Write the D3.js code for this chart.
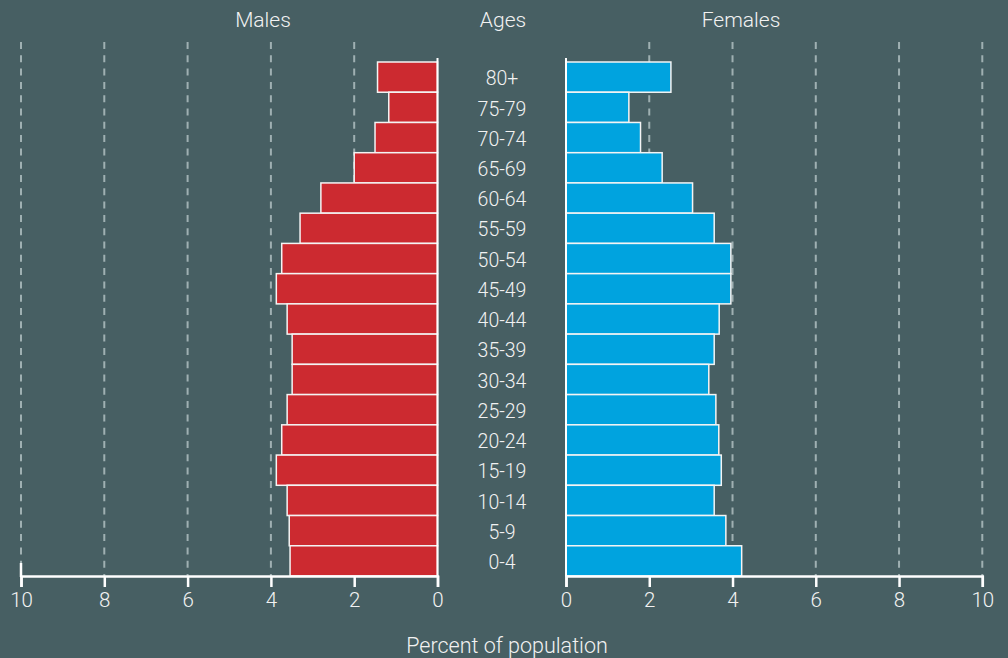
<!DOCTYPE html>
<html>
<head>
<meta charset="utf-8">
<script src="https://cdn.jsdelivr.net/npm/d3@7"></script>
<style>
  html, body { margin: 0; padding: 0; background: #475f63; }
  svg { display: block; font-family: Roboto, "Liberation Sans", sans-serif; font-weight: 300; }
</style>
</head>
<body>
<div id="chart"></div>
<script>
const ages = ['80+', '75-79', '70-74', '65-69', '60-64', '55-59', '50-54', '45-49', '40-44',
  '35-39', '30-34', '25-29', '20-24', '15-19', '10-14', '5-9', '0-4'];
const males = [1.44, 1.17, 1.50, 2.00, 2.80, 3.30, 3.74, 3.87, 3.61, 3.49, 3.49, 3.61, 3.74, 3.87, 3.61, 3.56, 3.54];
const females = [2.52, 1.51, 1.79, 2.31, 3.04, 3.56, 3.96, 3.96, 3.68, 3.56, 3.43, 3.60, 3.67, 3.73, 3.56, 3.84, 4.22];
const tickValues = [0, 2, 4, 6, 8, 10];
const gridValues = [2, 4, 6, 8, 10];

const width = 1008, height = 658;
const textColor = '#f2f2f2';

const svg = d3.select('#chart').append('svg')
  .attr('width', width)
  .attr('height', height);

svg.append('rect').attr('width', width).attr('height', height).attr('fill', '#475f63');

const y = d3.scaleBand().domain(ages).range([62, 576]).padding(0);
const xLeft = d3.scaleLinear().domain([0, 10]).range([437.5, 21]);
const xRight = d3.scaleLinear().domain([0, 10]).range([566, 982.3]);
const axisY = 576;

// dashed gridlines
[xLeft, xRight].forEach(x => {
  svg.append('g').selectAll('line')
    .data(gridValues)
    .join('line')
    .attr('x1', d => x(d)).attr('x2', d => x(d))
    .attr('y1', 42).attr('y2', axisY)
    .attr('stroke', '#9fb0b2')
    .attr('stroke-width', 2)
    .attr('stroke-dasharray', '7,6.3');
});

// bars
svg.append('g').selectAll('rect')
  .data(males)
  .join('rect')
  .attr('x', d => xLeft(d))
  .attr('y', (d, i) => y(ages[i]))
  .attr('width', d => xLeft(0) - xLeft(d))
  .attr('height', y.bandwidth())
  .attr('fill', '#cc2a30')
  .attr('stroke', '#f4f4f4')
  .attr('stroke-width', 1.5);

svg.append('g').selectAll('rect')
  .data(females)
  .join('rect')
  .attr('x', xRight(0))
  .attr('y', (d, i) => y(ages[i]))
  .attr('width', d => xRight(d) - xRight(0))
  .attr('height', y.bandwidth())
  .attr('fill', '#00a3df')
  .attr('stroke', '#f4f4f4')
  .attr('stroke-width', 1.5);

// zero lines
[xLeft(0), xRight(0)].forEach(x0 => {
  svg.append('line')
    .attr('x1', x0).attr('x2', x0)
    .attr('y1', 58).attr('y2', axisY)
    .attr('stroke', '#ffffff').attr('stroke-width', 2);
});

// axes
function drawAxis(x) {
  const g = svg.append('g').attr('transform', `translate(0,${axisY})`)
    .call(d3.axisBottom(x).tickValues(tickValues).tickSize(11).tickPadding(5).tickFormat(d3.format('d')));
  g.select('.domain').attr('stroke', '#ffffff').attr('stroke-width', 2.5);
  g.selectAll('.tick line').attr('stroke', '#ffffff').attr('stroke-width', 2.5);
  g.selectAll('.tick text')
    .attr('fill', textColor)
    .style('font-size', '20.5px')
    .style('font-family', 'Roboto, "Liberation Sans", sans-serif')
    .style('font-weight', 300);
  return g;
}
drawAxis(xLeft);
drawAxis(xRight);

// end cap on the left 10 mark
svg.append('line')
  .attr('x1', xLeft(10)).attr('x2', xLeft(10))
  .attr('y1', 563).attr('y2', axisY + 1)
  .attr('stroke', '#ffffff').attr('stroke-width', 2.5);

// age labels
svg.append('g').selectAll('text')
  .data(ages)
  .join('text')
  .attr('x', 502)
  .attr('y', d => y(d) + y.bandwidth() / 2 + 3)
  .attr('text-anchor', 'middle')
  .attr('dominant-baseline', 'middle')
  .attr('fill', textColor)
  .style('font-size', '19.5px')
  .text(d => d);

// headers
const headers = [['Males', 263], ['Ages', 503], ['Females', 741]];
svg.append('g').selectAll('text')
  .data(headers)
  .join('text')
  .attr('x', d => d[1])
  .attr('y', 27)
  .attr('text-anchor', 'middle')
  .attr('fill', textColor)
  .style('font-size', '21px')
  .text(d => d[0]);

svg.append('text')
  .attr('x', 507)
  .attr('y', 653)
  .attr('text-anchor', 'middle')
  .attr('fill', textColor)
  .style('font-size', '21.5px')
  .text('Percent of population');
</script>
</body>
</html>
